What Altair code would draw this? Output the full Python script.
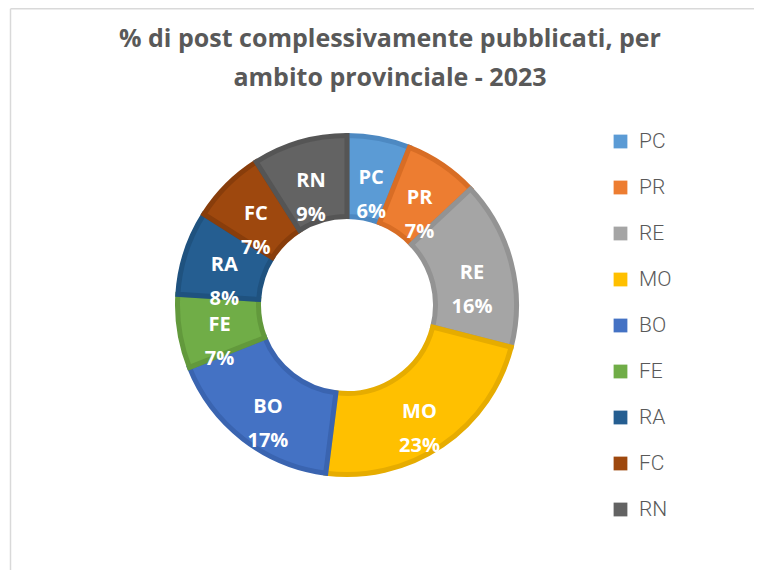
import altair as alt
import pandas as pd

TITLE_LINES = ["% di post complessivamente pubblicati, per", "ambito provinciale - 2023"]
CATEGORIES = ["PC", "PR", "RE", "MO", "BO", "FE", "RA", "FC", "RN"]
VALUES = [6, 7, 16, 23, 17, 7, 8, 7, 9]
COLORS = ["#5B9BD5", "#ED7D31", "#A5A5A5", "#FFC000", "#4472C4", "#70AD47", "#255E91", "#9E480E", "#636363"]
STROKES = ["#4D89C2", "#D86D25", "#939393", "#E6AC00", "#3A64B0", "#62993C", "#1F527F", "#883D0B", "#555555"]

df = pd.DataFrame({
    "cat": CATEGORIES,
    "value": VALUES,
    "idx": list(range(len(CATEGORIES))),
    "stroke": STROKES,
    "label": [f"{c}\n{v}%" for c, v in zip(CATEGORIES, VALUES)],
})

W, H = 746, 562
CX, CY = 339, 297

base = alt.Chart(df).encode(
    theta=alt.Theta("value:Q", stack=True),
    order=alt.Order("idx:Q"),
)

arcs = base.mark_arc(innerRadius=88.5, outerRadius=169.5, strokeWidth=5).encode(
    x=alt.value(CX),
    y=alt.value(CY),
    color=alt.Color(
        "cat:N",
        scale=alt.Scale(domain=CATEGORIES, range=COLORS),
        sort=CATEGORIES,
        legend=alt.Legend(
            title=None,
            orient="none",
            legendX=602,
            legendY=123,
            symbolType="square",
            symbolSize=190,
            symbolStrokeWidth=0,
            labelFontSize=21,
            labelFont="Roboto",
            labelFontWeight=300,
            labelColor="#595959",
            labelOffset=8,
            rowPadding=24,
            padding=0,
        ),
    ),
    stroke=alt.Stroke("stroke:N", scale=None),
)

labels = base.mark_text(
    radius=129,
    lineBreak="\n",
    lineHeight=34,
    fontSize=20,
    fontWeight="bold",
    font="Open Sans",
    color="white",
).encode(
    x=alt.value(CX),
    y=alt.value(CY),
    text="label:N",
)

title = alt.Chart(pd.DataFrame({"t": ["\n".join(TITLE_LINES)]})).mark_text(
    lineBreak="\n",
    lineHeight=39,
    fontSize=25,
    fontWeight="bold",
    font="Open Sans",
    color="#595959",
    align="center",
    baseline="middle",
).encode(text="t:N", x=alt.value(382), y=alt.value(31))

frame_df = pd.DataFrame({"f": [0]})
frame_top = alt.Chart(frame_df).mark_rule(color="#D9D9D9", strokeWidth=1.5).encode(
    x=alt.value(2.5), x2=alt.value(W), y=alt.value(0.75)
)
frame_left = alt.Chart(frame_df).mark_rule(color="#D9D9D9", strokeWidth=1.5).encode(
    x=alt.value(2.5), y=alt.value(0.75), y2=alt.value(H)
)

chart = alt.layer(frame_top, frame_left, arcs, labels, title).properties(
    width=W,
    height=H,
    padding=0,
    autosize=alt.AutoSizeParams(type="none"),
    background="white",
).configure_view(stroke=None)

chart.save("out.html", embed_options={"renderer": "svg", "actions": False})
